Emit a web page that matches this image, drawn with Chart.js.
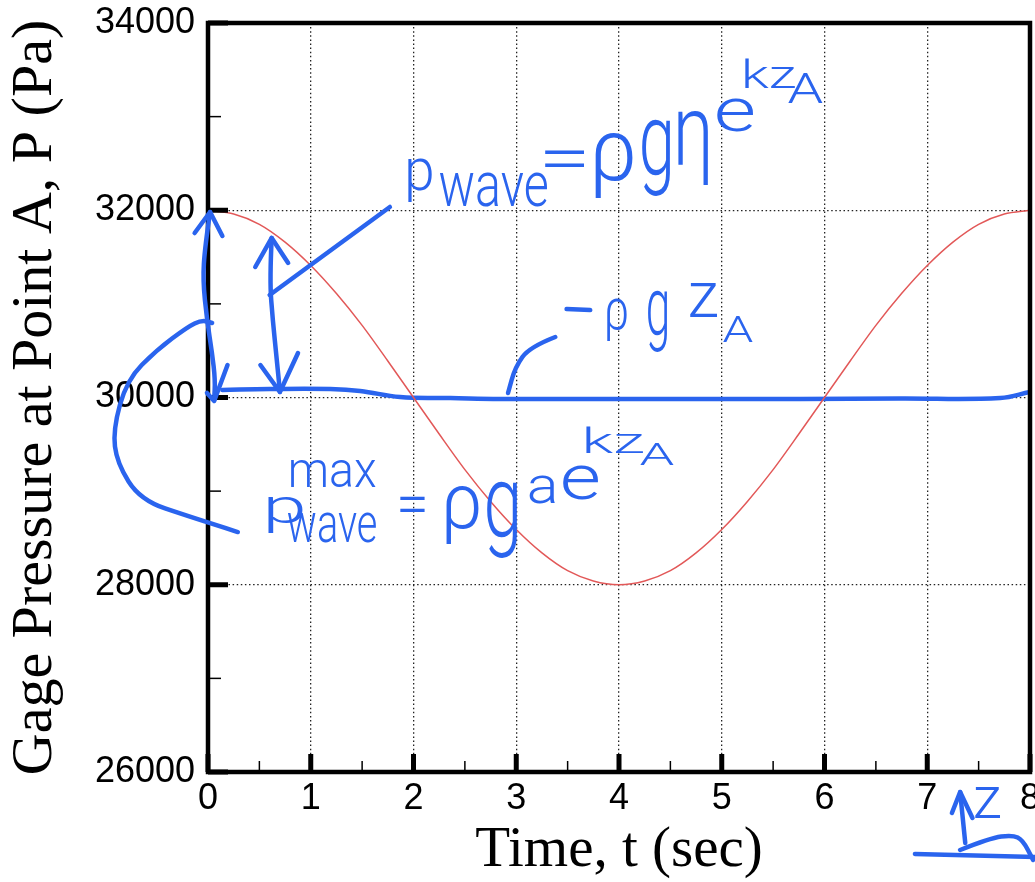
<!DOCTYPE html>
<html><head><meta charset="utf-8">
<script src="https://cdn.jsdelivr.net/npm/chart.js@4.4.1/dist/chart.umd.min.js"></script>
<style>html,body{margin:0;padding:0;background:#fff;overflow:hidden}#wrap{width:1035px;height:882px}</style>
</head><body><div id="wrap"><canvas id="c" width="1035" height="882"></canvas></div>
<script>
// ---- data ----
const timeSec = [0,0.25,0.5,0.75,1,1.25,1.5,1.75,2,2.25,2.5,2.75,3,3.25,3.5,3.75,4,4.25,4.5,4.75,5,5.25,5.5,5.75,6,6.25,6.5,6.75,7,7.25,7.5,7.75,8];
const pressurePa = [32000,31960,31850,31660,31410,31110,30770,30390,30000,29610,29230,28890,28590,28340,28150,28040,28000,28040,28150,28340,28590,28890,29230,29610,30000,30390,30770,31110,31410,31660,31850,31960,32000];
const handLineTime = [0.14,0.6,1.19,1.48,1.87,2.36,2.84,3.82,4.79,5.76,6.74,7.71,8.0];
const handLinePressure = [30080,30090,30090,30070,30005,29995,29985,29985,29985,29985,29990,29995,30060];
const xTickValues = [0,1,2,3,4,5,6,7,8];
const xMinorTicks = [0.5,1.5,2.5,3.5,4.5,5.5,6.5,7.5];
const yTickValues = [26000,28000,30000,32000,34000];
const yMinorTicks = [27000,29000,31000,33000];
const xTitle = 'Time, t (sec)';
const yTitle = 'Gage Pressure at Point A, P (Pa)';

// hand-drawn annotations, in data units (time, pressure)
const handStrokes = [
  {pts:[[0.02,31981],[-0.03,31607],[-0.05,31255],[-0.01,30828],[0.04,30475],[0.07,30187],[0.06,29973]], smooth:true},
  {pts:[[-0.13,31757],[0.02,31981],[0.14,31725]]},
  {pts:[[-0.01,30048],[0.06,29963],[0.19,30347]]},
  {pts:[[0.62,31704],[0.60,31255],[0.63,30828],[0.67,30400],[0.70,30059]], smooth:true},
  {pts:[[0.46,31394],[0.62,31704],[0.78,31437]]},
  {pts:[[0.51,30347],[0.70,30059],[0.876,30475]]},
  {pts:[[0.60,31095],[1.77,32035]]},
  {pts:[[0.29,28563],[-0.175,28724],[-0.66,28905],[-0.886,29300],[-0.925,29653],[-0.79,30187],[-0.50,30507],[-0.20,30753],[-0.06,30828],[0.04,30796]], smooth:true},
  {pts:[[3.38,30646],[3.13,30539],[2.99,30326],[2.92,30048]], smooth:true},
  {pts:[[3.49,30945],[3.72,30934]]},
  {pts:[[7.37,25242],[7.32,25786]]},
  {pts:[[7.24,25562],[7.32,25786],[7.44,25509]]},
  {pts:[[6.88,25124],[8.05,25092]]},
  {pts:[[7.32,25167],[7.61,25295],[7.83,25327],[7.93,25274],[8.03,25060]], smooth:true}
];
// [text, tLeft, tRight, pTop, pBottom]
const handTexts = [
  ['p',1.946,2.180,32558,32077],
  ['wave',2.258,3.299,32409,32035],
  ['=',3.280,3.669,32644,32462],
  ['ρ',3.766,4.136,32836,32142],
  ['g',4.224,4.496,32985,32163],
  ['η',4.574,4.866,33071,32270],
  ['e',4.954,5.304,33199,32836],
  ['kz',5.226,5.713,33626,33306],
  ['A',5.645,5.985,33466,33146],
  ['ρ',3.883,4.078,31073,30614],
  ['g',4.282,4.467,31148,30486],
  ['z',4.691,4.954,31223,30860],
  ['A',5.012,5.304,30881,30593],
  ['p',0.584,0.925,28937,28553],
  ['max',0.808,1.635,29332,29044],
  ['wave',0.779,1.635,28777,28446],
  ['=',1.869,2.112,28937,28766],
  ['ρ',2.316,2.637,29065,28446],
  ['g',2.715,3.007,29119,28296],
  ['a',3.124,3.377,29172,28873],
  ['e',3.455,3.796,29279,28905],
  ['kz',3.679,4.234,29685,29407],
  ['A',4.204,4.535,29514,29279],
  ['z',7.465,7.708,25840,25509]
];

const BLUE = '#2a64ee';
const RED = '#e25858';

const framePlugin = {
  id: 'frame',
  afterDraw(chart) {
    const {ctx, chartArea: a, scales: {x, y}} = chart;
    ctx.save();
    ctx.strokeStyle = '#000';
    ctx.lineCap = 'butt';
    ctx.lineWidth = 5;
    yTickValues.forEach(v => { const py = y.getPixelForValue(v); ctx.beginPath(); ctx.moveTo(a.left, py); ctx.lineTo(a.left + 20, py); ctx.stroke(); });
    xTickValues.forEach(v => { const px = x.getPixelForValue(v); ctx.beginPath(); ctx.moveTo(px, a.bottom); ctx.lineTo(px, a.bottom - 18); ctx.stroke(); });
    ctx.lineWidth = 1.5;
    yMinorTicks.forEach(v => { const py = y.getPixelForValue(v); ctx.beginPath(); ctx.moveTo(a.left, py); ctx.lineTo(a.left + 13, py); ctx.stroke(); });
    xMinorTicks.forEach(v => { const px = x.getPixelForValue(v); ctx.beginPath(); ctx.moveTo(px, a.bottom); ctx.lineTo(px, a.bottom - 11); ctx.stroke(); });
    ctx.lineWidth = 4.5;
    ctx.lineJoin = 'miter';
    ctx.strokeRect(a.left, a.top, a.right - a.left, a.bottom - a.top);
    ctx.restore();

    ctx.save();
    ctx.strokeStyle = BLUE; ctx.fillStyle = BLUE;
    ctx.lineWidth = 4.5; ctx.lineCap = 'round'; ctx.lineJoin = 'round';
    handStrokes.forEach(s => {
      const p = s.pts.map(q => [x.getPixelForValue(q[0]), y.getPixelForValue(q[1])]);
      ctx.beginPath();
      ctx.moveTo(p[0][0], p[0][1]);
      if (s.smooth && p.length > 2) {
        for (let i = 1; i < p.length - 1; i++) {
          const mx = (p[i][0] + p[i+1][0]) / 2, my = (p[i][1] + p[i+1][1]) / 2;
          ctx.quadraticCurveTo(p[i][0], p[i][1], mx, my);
        }
        ctx.lineTo(p[p.length-1][0], p[p.length-1][1]);
      } else {
        for (let i = 1; i < p.length; i++) ctx.lineTo(p[i][0], p[i][1]);
      }
      ctx.stroke();
    });
    handTexts.forEach(t => {
      const [txt, t0, t1, pT, pB] = t;
      ctx.save();
      ctx.font = '300 100px Roboto, Lato, "Open Sans", "DejaVu Sans"';
      const m = ctx.measureText(txt);
      const w = m.actualBoundingBoxLeft + m.actualBoundingBoxRight;
      const h = m.actualBoundingBoxAscent + m.actualBoundingBoxDescent;
      const x0 = x.getPixelForValue(t0), x1 = x.getPixelForValue(t1);
      const y0 = y.getPixelForValue(pT), y1 = y.getPixelForValue(pB);
      const sx = (x1 - x0) / w, sy = (y1 - y0) / h;
      ctx.translate(x0, y0);
      ctx.scale(sx, sy);
      ctx.fillText(txt, m.actualBoundingBoxLeft, m.actualBoundingBoxAscent);
      ctx.restore();
    });
    ctx.restore();
  }
};

function noScalePadding(s) { s.paddingTop = 0; s.paddingBottom = 0; s.paddingLeft = 0; s.paddingRight = 0; }

new Chart(document.getElementById('c'), {
  type: 'line',
  data: {
    datasets: [
      { data: timeSec.map((t, i) => ({x: t, y: pressurePa[i]})), borderColor: RED, borderWidth: 1.5, pointRadius: 0, tension: 0.3, fill: false },
      { data: handLineTime.map((t, i) => ({x: t, y: handLinePressure[i]})), borderColor: BLUE, borderWidth: 4.5, pointRadius: 0, tension: 0.4, fill: false, borderCapStyle: 'round' }
    ]
  },
  options: {
    responsive: false, animation: false, devicePixelRatio: 1,
    layout: { autoPadding: false, padding: { left: 0, right: 5, top: 23, bottom: 0 } },
    plugins: { legend: { display: false }, tooltip: { enabled: false } },
    scales: {
      x: {
        type: 'linear', min: 0, max: 8,
        afterBuildTicks: s => { s.ticks = xTickValues.map(v => ({value: v})); },
        afterFit: s => { s.height = 110; noScalePadding(s); },
        ticks: { color: '#000', font: { family: '"Liberation Sans", Arial', size: 36 }, padding: 5, maxRotation: 0, callback: v => String(v) },
        grid: { drawTicks: false, color: '#222', lineWidth: 1.3 },
        border: { display: false, dash: [1.5, 2.6] },
        title: { display: true, text: xTitle, color: '#000', font: { family: '"Liberation Serif", "Times New Roman"', size: 57, lineHeight: 1 }, padding: { top: 0, bottom: 2 } }
      },
      y: {
        type: 'linear', min: 26000, max: 34000,
        afterBuildTicks: s => { s.ticks = yTickValues.map(v => ({value: v})); },
        afterFit: s => { s.width = 208; noScalePadding(s); },
        ticks: { color: '#000', font: { family: '"Liberation Sans", Arial', size: 36 }, padding: 13, callback: v => String(v) },
        grid: { drawTicks: false, color: '#222', lineWidth: 1.3 },
        border: { display: false, dash: [1.5, 2.6] },
        title: { display: true, text: yTitle, color: '#000', font: { family: '"Liberation Serif", "Times New Roman"', size: 58, lineHeight: 1 }, padding: { top: 7, bottom: 0 } }
      }
    }
  },
  plugins: [framePlugin]
});
</script>
</body></html>
